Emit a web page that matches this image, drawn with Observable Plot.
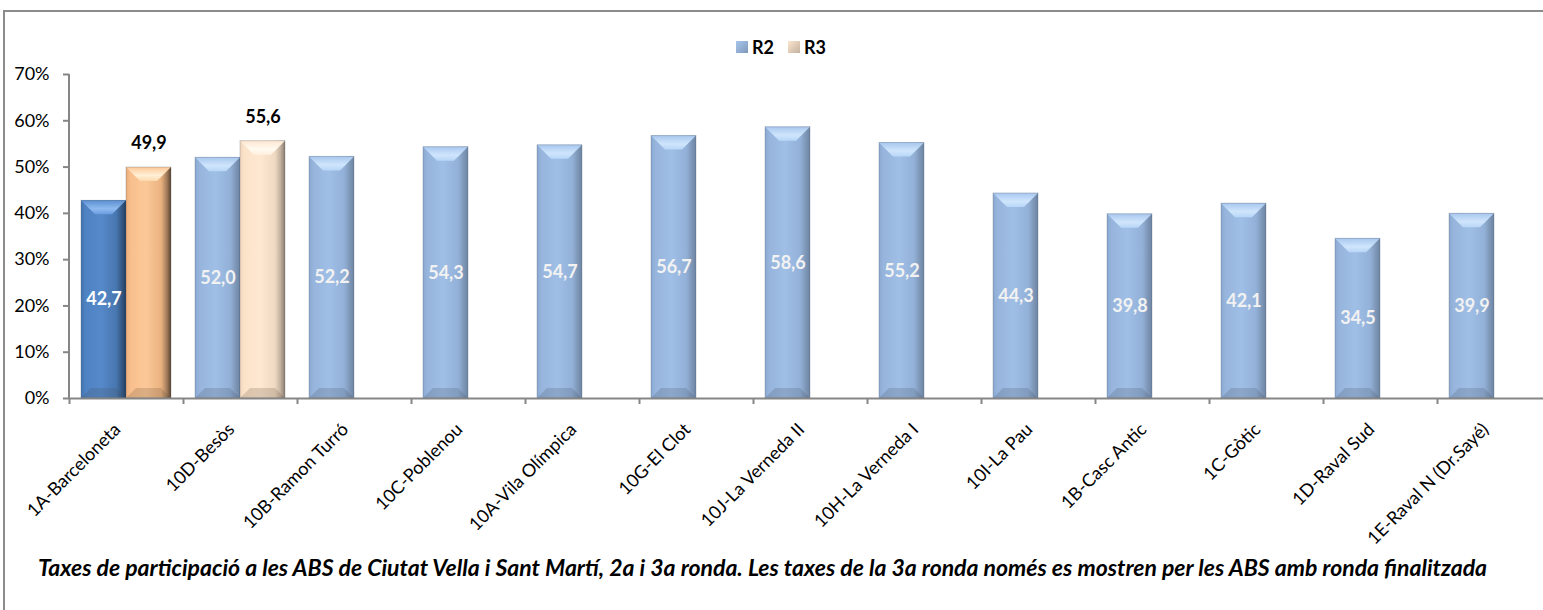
<!DOCTYPE html>
<html>
<head>
<meta charset="utf-8">
<script src="https://cdn.jsdelivr.net/npm/d3@7"></script>
<script src="https://cdn.jsdelivr.net/npm/@observablehq/plot@0.6"></script>
<style>
  html, body { margin: 0; padding: 0; background: #fff; overflow: hidden; width: 1543px; height: 610px; }
  #frame { position: absolute; left: 3px; top: 10px; width: 1600px; height: 700px; border: 2px solid #8c8c8c; box-sizing: border-box; }
  #legend { position: absolute; left: 736px; top: 36px; height: 22px; display: flex; align-items: center; font-family: Lato, sans-serif; font-weight: bold; font-size: 18px; color: #000; }
  #legend .sw { width: 12px; height: 12px; margin-right: 4px; box-sizing: border-box; }
  #legend .item { display: flex; align-items: center; margin-right: 14px; }
  #chart { position: absolute; left: 0; top: 60px; }
  #caption { position: absolute; left: 38px; top: 553px; font-family: Lato, sans-serif; font-weight: bold; font-style: italic; font-size: 22px; color: #000; white-space: nowrap; }
  svg text { font-family: Lato, sans-serif; }
</style>
</head>
<body>
<div id="frame"></div>
<div id="legend"></div>
<div id="chart"></div>
<div id="caption">Taxes de participació a les ABS de Ciutat Vella i Sant Martí, 2a i 3a ronda. Les taxes de la 3a ronda només es mostren per les ABS amb ronda finalitzada</div>
<script>
// ---- data ----
const categories = ["1A-Barceloneta", "10D-Besòs", "10B-Ramon Turró", "10C-Poblenou", "10A-Vila Olímpica", "10G-El Clot", "10J-La Verneda II", "10H-La Verneda I", "10I-La Pau", "1B-Casc Antic", "1C-Gòtic", "1D-Raval Sud", "1E-Raval N (Dr.Sayé)"];
const r2 = [42.7, 52.0, 52.2, 54.3, 54.7, 56.7, 58.6, 55.2, 44.3, 39.8, 42.1, 34.5, 39.9];
const r3 = [49.9, 55.6, null, null, null, null, null, null, null, null, null, null, null];
const seriesNames = ["R2", "R3"];
const yTicks = [0, 10, 20, 30, 40, 50, 60, 70];

const rows2 = categories.map((c, i) => ({cat: c, v: r2[i], i}));
const rows3 = categories.map((c, i) => ({cat: c, v: r3[i], i})).filter(d => d.v != null);
const fmt = v => d3.format(".1f")(v).replace(".", ",");

const fillR2 = d => d.i === 0 ? "url(#gDark)" : "url(#gBlue)";
const fillR3 = d => d.i === 0 ? "url(#gOrange)" : "url(#gPeach)";

const axisGray = "#868686";
const band = 114;

const plot = Plot.plot({
  width: 1543,
  height: 490,
  marginLeft: 69,
  marginRight: 0,
  marginTop: 14,
  marginBottom: 152,
  x: {domain: categories, range: [69, 69 + band * categories.length], padding: 0},
  y: {domain: [0, 70], range: [338, 14]},
  marks: [
    Plot.barY(rows2, {x: "cat", y: "v", fill: fillR2, insetLeft: 12, insetRight: 57}),
    Plot.barY(rows3, {x: "cat", y: "v", fill: fillR3, insetLeft: 57, insetRight: 12}),
    Plot.text(rows2, {x: "cat", y: d => d.v / 2, text: d => fmt(d.v), dx: -22.5, fill: d => d.i === 0 ? "#ffffff" : "#f2f2f2", fontWeight: "bold", fontSize: 18}),
    Plot.text(rows3, {x: "cat", y: "v", text: d => fmt(d.v), dx: 22.5, dy: -24, fill: "#000", fontWeight: "bold", fontSize: 18}),
    Plot.ruleY([0], {stroke: axisGray, strokeWidth: 2}),
    Plot.axisY({ticks: yTicks, tickFormat: d => d + "%", tickSize: 6, tickPadding: 14, stroke: axisGray, strokeWidth: 2, fontSize: 18, color: "#000", label: null}),
    Plot.axisX({ticks: categories, tickSize: 6, stroke: axisGray, strokeWidth: 2, text: null, dx: -57, label: null}),
    Plot.axisX({ticks: categories, tickSize: 0, tickRotate: -45, tickPadding: 28, dx: -9, fontSize: 18, fill: "#000", label: null})
  ]
});
document.getElementById("chart").appendChild(plot);

const svg = d3.select(plot);
// vertical y-axis line drawn from the y scale
const ys = plot.scale("y");
svg.append("line").attr("x1", 69).attr("x2", 69).attr("y1", ys.apply(0)).attr("y2", ys.apply(70)).attr("stroke", axisGray).attr("stroke-width", 2);

// gradients for the bevelled bars
const defs = svg.insert("defs", ":first-child");
function grad(id, vertical, stops) {
  const g = defs.append("linearGradient").attr("id", id).attr("x1", "0").attr("y1", "0").attr("x2", vertical ? "0" : "1").attr("y2", vertical ? "1" : "0");
  stops.forEach(([o, c]) => g.append("stop").attr("offset", o).attr("stop-color", c));
}
grad("gBlue", false, [[0, "#8ba9d1"], [0.1, "#96b4dc"], [0.45, "#a0bfe6"], [0.78, "#93b1d8"], [0.9, "#7f98b9"], [1, "#6e85a4"]]);
grad("gDark", false, [[0, "#4474ae"], [0.1, "#4f82c2"], [0.45, "#5689c9"], [0.78, "#4877b0"], [0.9, "#355a86"], [1, "#243e5e"]]);
grad("gOrange", false, [[0, "#e9ad7b"], [0.1, "#f8bf8d"], [0.45, "#fcc898"], [0.78, "#eab27f"], [0.9, "#a7805d"], [1, "#5a4432"]]);
grad("gPeach", false, [[0, "#f0d6bd"], [0.1, "#fbe3ca"], [0.45, "#fee8d2"], [0.78, "#efd9c2"], [0.9, "#c2b09f"], [1, "#8a7d70"]]);
grad("topBlue", true, [[0, "#a8c7ee"], [0.6, "#cfe5fc"], [1, "#b8d6f7"]]);
grad("topDark", true, [[0, "#5b8fd0"], [0.6, "#8fbaf0"], [1, "#6a9be0"]]);
grad("topOrange", true, [[0, "#fcc898"], [0.6, "#fff0d6"], [1, "#fdd9ae"]]);
grad("topPeach", true, [[0, "#fde6cf"], [0.6, "#fffaf0"], [1, "#fff0de"]]);

const barGroups = svg.selectAll('g[aria-label="bar"]').nodes();
function bevel(node, topFill, botFill) {
  d3.select(node).selectAll("rect").each(function() {
    const r = d3.select(this);
    const x = +r.attr("x"), y = +r.attr("y"), w = +r.attr("width"), h = +r.attr("height");
    const g = d3.select(this.parentNode);
    const f = r.attr("fill") || "";
    const t = 14, b = 10;
    g.append("polygon").attr("points", [[x, y], [x + w, y], [x + w - t, y + t], [x + t, y + t]].join(" ")).attr("fill", topFill(f));
    g.append("polygon").attr("points", [[x, y + h], [x + w, y + h], [x + w - b, y + h - b], [x + b, y + h - b]].join(" ")).attr("fill", botFill);
    g.append("rect").attr("x", x).attr("y", y).attr("width", w).attr("height", h).attr("fill", "none").attr("stroke", "rgba(60,70,90,0.25)").attr("stroke-width", 1);
  });
}
if (barGroups[0]) bevel(barGroups[0], f => f.includes("gDark") ? "url(#topDark)" : "url(#topBlue)", "rgba(70,80,100,0.22)");
if (barGroups[1]) bevel(barGroups[1], f => f.includes("gOrange") ? "url(#topOrange)" : "url(#topPeach)", "rgba(90,70,50,0.2)");

// legend
const legend = d3.select("#legend");
const swatches = [["R2", "linear-gradient(135deg,#a8c7ee,#7f98b9)"], ["R3", "linear-gradient(135deg,#fde6cf,#c2b09f)"]];
seriesNames.forEach((n, k) => {
  const it = legend.append("div").attr("class", "item");
  it.append("div").attr("class", "sw").style("background", swatches[k][1]);
  it.append("span").text(n);
});

// fit caption to the reference width
const cap = document.getElementById("caption");
const w0 = cap.getBoundingClientRect().width;
cap.style.fontSize = (22 * 1450 / w0) + "px";
</script>
</body>
</html>
